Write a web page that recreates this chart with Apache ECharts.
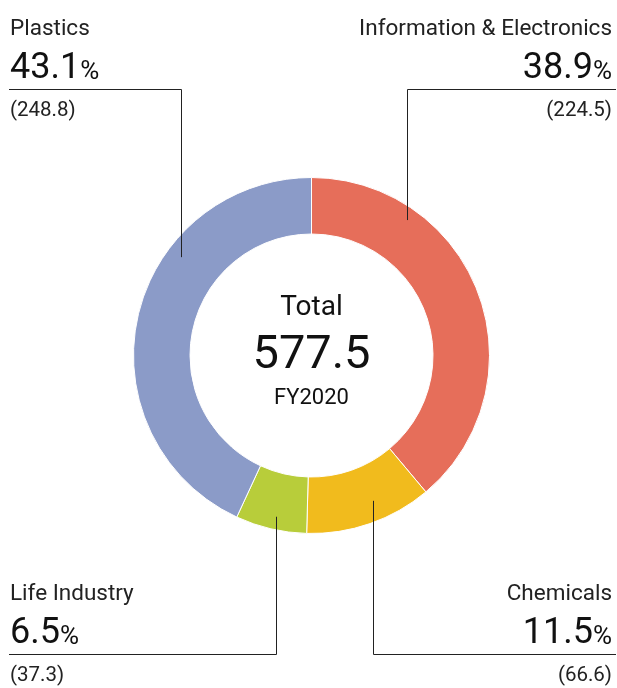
<!DOCTYPE html>
<html>
<head>
<meta charset="utf-8">
<script src="https://cdn.jsdelivr.net/npm/echarts@6/dist/echarts.min.js"></script>
<style>
  html, body { margin: 0; background: #fff; }
  #grafico { width: 617px; height: 688px; }
</style>
</head>
<body>
<div id="grafico"></div>
<script>
// Datos (clockwise from 12 o'clock)
const segmentos = ['Information & Electronics', 'Chemicals', 'Life Industry', 'Plastics'];
const valores = [224.5, 66.6, 37.3, 248.8];
const colores = ['#e66e5a', '#f1bb1d', '#b8cd3a', '#8b9bc8'];
const totalTexto = '577.5';
const periodo = 'FY2020';

const FUENTE = 'Roboto, sans-serif';
const CX = 311.5, CY = 355.5;
const RADIO = [121.5, 178];
// maqueta de cada etiqueta: lado, arriba/abajo, x de la guía vertical, profundidad en el anillo
const MAQUETA = [
  { lado: 'right', arriba: true,  guia: 407.5, r: 166 },
  { lado: 'right', arriba: false, guia: 373.5, r: 158 },
  { lado: 'left',  arriba: false, guia: 276.5, r: 165 },
  { lado: 'left',  arriba: true,  guia: 181.5, r: 163 }
];
const LINEA_ARRIBA = 89.5, LINEA_ABAJO = 654.5;

const datosPie = segmentos.map((n, i) => ({ name: n, value: valores[i], itemStyle: { color: colores[i] } }));

const chart = echarts.init(document.getElementById('grafico'), null, { renderer: 'canvas' });

chart.setOption({
  backgroundColor: '#fff',
  animation: false,
  graphic: [
    { type: 'text', x: CX, y: 308, style: { text: 'Total', font: '28px ' + FUENTE, fill: '#111', align: 'center', verticalAlign: 'middle' } },
    { type: 'text', x: CX, y: 356, style: { text: totalTexto, font: '47px ' + FUENTE, fill: '#111', align: 'center', verticalAlign: 'middle' } },
    { type: 'text', x: CX, y: 398, style: { text: periodo, font: '22px ' + FUENTE, fill: '#111', align: 'center', verticalAlign: 'middle' } }
  ],
  series: [
    // anillo
    {
      type: 'pie', z: 2,
      center: [CX, CY], radius: RADIO,
      startAngle: 90, clockwise: true, silent: true,
      itemStyle: { borderColor: '#fff', borderWidth: 1 },
      label: { show: false }, labelLine: { show: false },
      data: datosPie
    },
    // capa de etiquetas encima, para que las guías entren en el anillo
    {
      type: 'pie', z: 3,
      center: [CX, CY], radius: RADIO,
      startAngle: 90, clockwise: true, silent: true,
      avoidLabelOverlap: false,
      itemStyle: { color: 'rgba(0,0,0,0)', borderWidth: 0 },
      data: segmentos.map((n, i) => ({ name: n, value: valores[i] })),
      label: {
        show: true,
        position: 'outside',
        fontFamily: FUENTE,
        padding: 0,
        formatter: (p) => '{n|' + p.name + '}\n{p|' + p.percent.toFixed(1) + '}{u|%}\n{v|(' + p.value.toFixed(1) + ')}',
        rich: {
          n: { fontSize: 22.5, lineHeight: 40, color: '#222', fontFamily: FUENTE },
          p: { fontSize: 36, lineHeight: 40, color: '#111', fontFamily: FUENTE },
          u: { fontSize: 26, color: '#111', fontFamily: FUENTE, padding: [7, 0, 0, 0] },
          v: { fontSize: 20.5, lineHeight: 44, color: '#222', fontFamily: FUENTE }
        }
      },
      labelLine: { show: true, lineStyle: { color: '#222', width: 1 } },
      labelLayout: function (params) {
        const m = MAQUETA[params.dataIndex];
        const dx = m.guia - CX;
        const dy = Math.sqrt(m.r * m.r - dx * dx);
        const yAnillo = m.arriba ? CY - dy : CY + dy;
        const yLinea = m.arriba ? LINEA_ARRIBA : LINEA_ABAJO;
        const xFin = m.lado === 'left' ? 9 : 616;
        return {
          x: m.lado === 'left' ? 10 : 612,
          y: yLinea - 0.5 - 80,
          align: m.lado,
          verticalAlign: 'top',
          labelLinePoints: [[m.guia, yAnillo], [m.guia, yLinea], [xFin, yLinea]]
        };
      }
    }
  ]
});
</script>
</body>
</html>
